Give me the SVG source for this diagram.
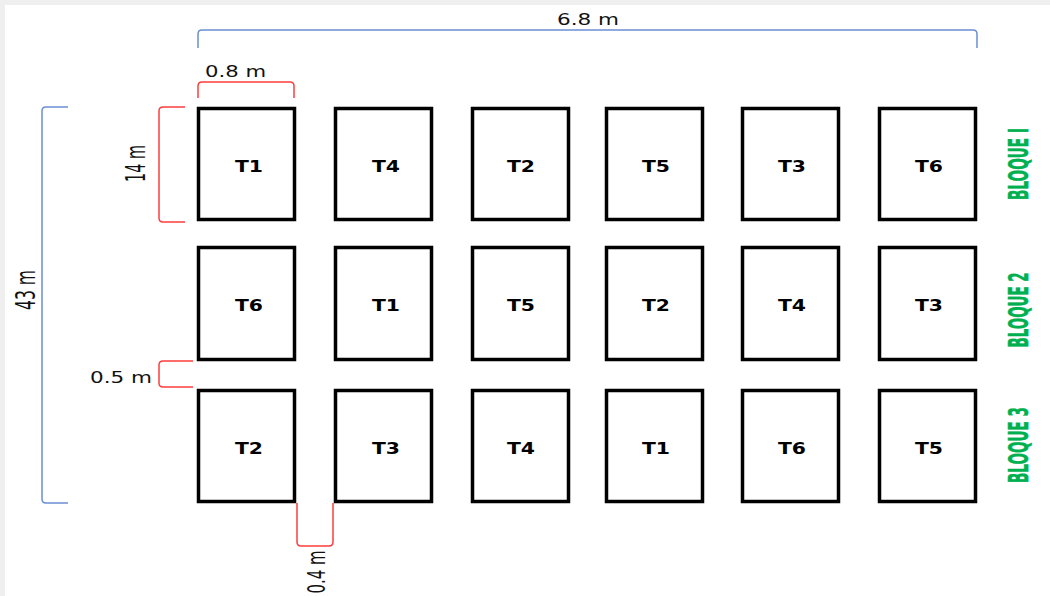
<svg xmlns="http://www.w3.org/2000/svg" width="1050" height="596" viewBox="0 0 1050 596">
  <style>
    .plot { fill: #ffffff; stroke: #000000; stroke-width: 3.5; }
    .lbl { font-family: "DejaVu Sans", "Liberation Sans", sans-serif; font-weight: bold; font-size: 15.5px; fill: #000000; text-anchor: middle; }
    .dim { font-family: "DejaVu Sans", "Liberation Sans", sans-serif; font-size: 16.5px; fill: #111111; }
    .vdim { font-family: "DejaVu Sans", "Liberation Sans", sans-serif; fill: #111111; text-anchor: middle; }
    .bloque { font-family: "DejaVu Sans", "Liberation Sans", sans-serif; font-weight: bold; font-size: 27px; fill: #00b050; text-anchor: middle; stroke: #00b050; stroke-width: 0.6; }
    .red { fill: none; stroke: #ff3c3c; stroke-width: 1.5; }
    .blue { fill: none; stroke: #6a8fd4; stroke-width: 1.5; }
  </style>
  <rect x="0" y="0" width="1050" height="596" fill="#ffffff"/>
  <rect x="0" y="0" width="1050" height="5" fill="#efefef"/>
  <rect x="0" y="0" width="5" height="596" fill="#efefef"/>

  <g id="connectors">
    <path class="blue" d="M198,48 V34 Q198,30 202,30 H973 Q977,30 977,34 V48"/>
    <path class="red" d="M198,98 V86 Q198,82 202,82 H290 Q294,82 294,86 V98"/>
    <path class="red" d="M185,107 H163 Q159,107 159,111 V218 Q159,222 163,222 H185"/>
    <path class="blue" d="M68,107 H46 Q42,107 42,111 V499 Q42,503 46,503 H68"/>
    <path class="red" d="M193,361 H163 Q159,361 159,365 V383 Q159,387 163,387 H193"/>
    <path class="red" d="M297,503 V542 Q297,546 301,546 H329 Q333,546 333,542 V503"/>
  </g>

  <g id="dimension-labels">
    <text class="dim" x="557" y="25" textLength="62" lengthAdjust="spacingAndGlyphs">6.8 m</text>
    <text class="dim" x="205" y="77" textLength="61" lengthAdjust="spacingAndGlyphs">0.8 m</text>
    <text class="dim" x="90" y="383" textLength="62" lengthAdjust="spacingAndGlyphs">0.5 m</text>
    <text class="vdim" font-size="27" transform="translate(145,163.5) rotate(-90)" textLength="37" lengthAdjust="spacingAndGlyphs">14 m</text>
    <text class="vdim" font-size="27" transform="translate(35,290) rotate(-90)" textLength="40" lengthAdjust="spacingAndGlyphs">43 m</text>
    <text class="vdim" font-size="25" transform="translate(325,572) rotate(-90)" textLength="43" lengthAdjust="spacingAndGlyphs">0.4 m</text>
  </g>

  <g id="bloque-labels">
    <text class="bloque" transform="translate(1028,164) rotate(-90)" textLength="72" lengthAdjust="spacingAndGlyphs">BLOQUE I</text>
    <text class="bloque" transform="translate(1028,310) rotate(-90)" textLength="75" lengthAdjust="spacingAndGlyphs">BLOQUE 2</text>
    <text class="bloque" transform="translate(1028,445) rotate(-90)" textLength="76" lengthAdjust="spacingAndGlyphs">BLOQUE 3</text>
  </g>

  <!-- Row 1 -->
  <g id="r1c1"><rect class="plot" x="198.5" y="108.5" width="96" height="111"/><text class="lbl" x="249" y="172" textLength="28" lengthAdjust="spacingAndGlyphs">T1</text></g>
  <g id="r1c2"><rect class="plot" x="335.5" y="108.5" width="96" height="111"/><text class="lbl" x="386" y="172" textLength="28" lengthAdjust="spacingAndGlyphs">T4</text></g>
  <g id="r1c3"><rect class="plot" x="472.5" y="108.5" width="96" height="111"/><text class="lbl" x="521" y="172" textLength="28" lengthAdjust="spacingAndGlyphs">T2</text></g>
  <g id="r1c4"><rect class="plot" x="606.5" y="108.5" width="96" height="111"/><text class="lbl" x="656" y="172" textLength="28" lengthAdjust="spacingAndGlyphs">T5</text></g>
  <g id="r1c5"><rect class="plot" x="742.5" y="108.5" width="96" height="111"/><text class="lbl" x="792" y="172" textLength="28" lengthAdjust="spacingAndGlyphs">T3</text></g>
  <g id="r1c6"><rect class="plot" x="879.5" y="108.5" width="96" height="111"/><text class="lbl" x="929" y="172" textLength="28" lengthAdjust="spacingAndGlyphs">T6</text></g>

  <!-- Row 2 -->
  <g id="r2c1"><rect class="plot" x="198.5" y="247.5" width="96" height="112"/><text class="lbl" x="249" y="311" textLength="28" lengthAdjust="spacingAndGlyphs">T6</text></g>
  <g id="r2c2"><rect class="plot" x="335.5" y="247.5" width="96" height="112"/><text class="lbl" x="386" y="311" textLength="28" lengthAdjust="spacingAndGlyphs">T1</text></g>
  <g id="r2c3"><rect class="plot" x="472.5" y="247.5" width="96" height="112"/><text class="lbl" x="521" y="311" textLength="28" lengthAdjust="spacingAndGlyphs">T5</text></g>
  <g id="r2c4"><rect class="plot" x="606.5" y="247.5" width="96" height="112"/><text class="lbl" x="656" y="311" textLength="28" lengthAdjust="spacingAndGlyphs">T2</text></g>
  <g id="r2c5"><rect class="plot" x="742.5" y="247.5" width="96" height="112"/><text class="lbl" x="792" y="311" textLength="28" lengthAdjust="spacingAndGlyphs">T4</text></g>
  <g id="r2c6"><rect class="plot" x="879.5" y="247.5" width="96" height="112"/><text class="lbl" x="929" y="311" textLength="28" lengthAdjust="spacingAndGlyphs">T3</text></g>

  <!-- Row 3 -->
  <g id="r3c1"><rect class="plot" x="198.5" y="390.5" width="96" height="111"/><text class="lbl" x="249" y="454" textLength="28" lengthAdjust="spacingAndGlyphs">T2</text></g>
  <g id="r3c2"><rect class="plot" x="335.5" y="390.5" width="96" height="111"/><text class="lbl" x="386" y="454" textLength="28" lengthAdjust="spacingAndGlyphs">T3</text></g>
  <g id="r3c3"><rect class="plot" x="472.5" y="390.5" width="96" height="111"/><text class="lbl" x="521" y="454" textLength="28" lengthAdjust="spacingAndGlyphs">T4</text></g>
  <g id="r3c4"><rect class="plot" x="606.5" y="390.5" width="96" height="111"/><text class="lbl" x="656" y="454" textLength="28" lengthAdjust="spacingAndGlyphs">T1</text></g>
  <g id="r3c5"><rect class="plot" x="742.5" y="390.5" width="96" height="111"/><text class="lbl" x="792" y="454" textLength="28" lengthAdjust="spacingAndGlyphs">T6</text></g>
  <g id="r3c6"><rect class="plot" x="879.5" y="390.5" width="96" height="111"/><text class="lbl" x="929" y="454" textLength="28" lengthAdjust="spacingAndGlyphs">T5</text></g>
</svg>
